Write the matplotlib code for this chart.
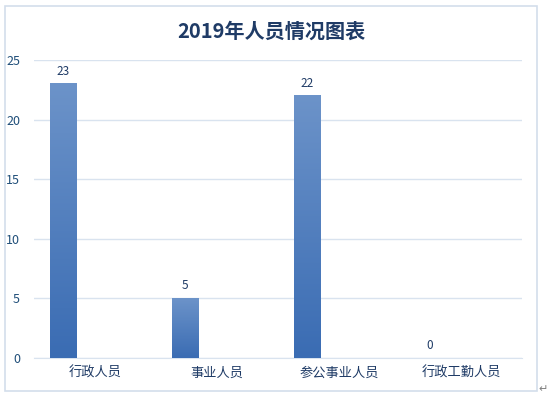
import matplotlib.pyplot as plt
import numpy as np
from matplotlib.colors import LinearSegmentedColormap
from matplotlib.patches import Rectangle

plt.rcParams['font.family'] = ['Noto Sans CJK SC', 'DejaVu Sans']

title = '2019年人员情况图表'
categories = ['行政人员', '事业人员', '参公事业人员', '行政工勤人员']
values = [23, 5, 22, 0]
yticks = [0, 5, 10, 15, 20, 25]

W, H = 549, 399
fig = plt.figure(figsize=(W / 100, H / 100), dpi=100)

# outer chart border
fig.patches.append(Rectangle((5 / W, 1 - 391 / H), (537 - 5) / W, (391 - 6) / H,
                             transform=fig.transFigure, fill=False,
                             edgecolor='#d3deeb', linewidth=1.2))
fig.text(543 / W, 1 - 389 / H, '↵', fontsize=8, color='#7f7f7f',
         ha='center', va='center', family=['DejaVu Sans'])

ax = fig.add_axes([34 / W, 1 - 358 / H, (522 - 34) / W, (358 - 60) / H])
fig.text(271 / W, 1 - 31 / H, title, fontsize=14.5, fontweight='bold',
         color='#1f3b66', ha='center', va='center')

cmap = LinearSegmentedColormap.from_list('bar', ['#3a6cb3', '#6c93c9'])
grad = np.linspace(0, 1, 256).reshape(-1, 1)

x = np.arange(len(categories))
offset, width = -0.26, 0.22
for xi, v in zip(x, values):
    left = xi + offset - width / 2
    if v > 0:
        ax.imshow(grad, extent=(left, left + width, 0, v), origin='lower',
                  cmap=cmap, aspect='auto', zorder=3)
    ax.text(xi + offset, v + 0.5, str(v), ha='center', va='bottom',
            fontsize=8.5, color='#1f3b66', zorder=4)

ax.set_xlim(-0.5, len(categories) - 0.5)
ax.set_ylim(0, 25)
ax.set_yticks(yticks)
ax.set_xticks(x)
ax.set_xticklabels(categories, fontsize=9.5, color='#1f3b66')
ax.tick_params(axis='y', labelsize=9, colors='#1f4e79', length=0, pad=10)
ax.tick_params(axis='x', length=0, pad=6)
for lbl in ax.get_yticklabels():
    lbl.set_color('#1f4e79')
ax.grid(axis='y', color='#d9e3ef', linewidth=1)
ax.set_axisbelow(True)
for s in ['top', 'right', 'left']:
    ax.spines[s].set_visible(False)
ax.spines['bottom'].set_color('#d9e3ef')

fig.savefig('out.png', dpi=100)
